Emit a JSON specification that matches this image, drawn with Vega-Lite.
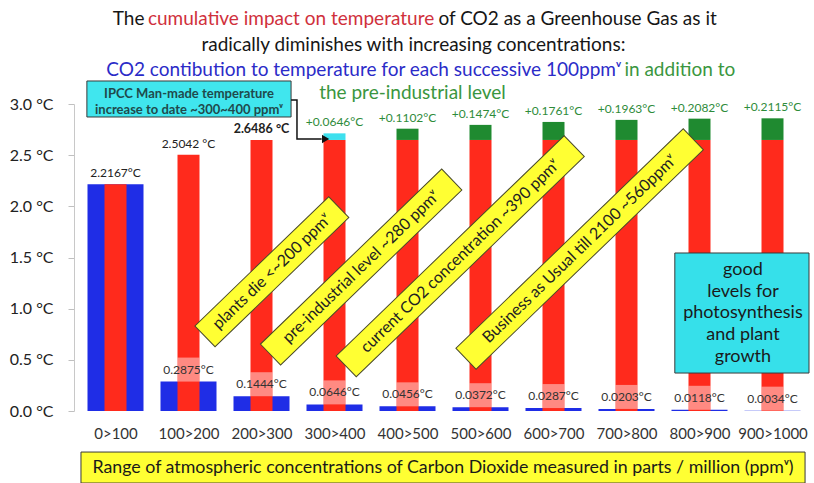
{
  "$schema": "https://vega.github.io/schema/vega-lite/v6.json",
  "width": 740,
  "height": 307,
  "autosize": {"type": "none"},
  "padding": {"left": 74, "top": 104, "right": 0, "bottom": 72},
  "background": "white",
  "config": {"font": "Lato", "view": {"stroke": null}},
  "datasets": {
    "bars": [
      {"range": "0>100", "x": 50, "y": 2.2167, "label": ""},
      {"range": "100>200", "x": 150, "y": 0.2875, "label": "0.2875°C"},
      {"range": "200>300", "x": 250, "y": 0.1444, "label": "0.1444°C"},
      {"range": "300>400", "x": 350, "y": 0.0646, "label": "0.0646°C"},
      {"range": "400>500", "x": 450, "y": 0.0456, "label": "0.0456°C"},
      {"range": "500>600", "x": 550, "y": 0.0372, "label": "0.0372°C"},
      {"range": "600>700", "x": 650, "y": 0.0287, "label": "0.0287°C"},
      {"range": "700>800", "x": 750, "y": 0.0203, "label": "0.0203°C"},
      {"range": "800>900", "x": 850, "y": 0.0118, "label": "0.0118°C"},
      {"range": "900>1000", "x": 950, "y": 0.0034, "label": "0.0034°C"}
    ],
    "cumulative": [
      {"x": 50, "part": "cumulative", "y": 2.2167, "label": "2.2167°C"},
      {"x": 150, "part": "cumulative", "y": 2.5042, "label": "2.5042 °C"},
      {"x": 250, "part": "cumulative", "y": 2.6486, "label": "2.6486 °C"},
      {"x": 350, "part": "cumulative", "y": 2.6486, "label": ""},
      {"x": 350, "part": "increase (IPCC)", "y": 0.0646, "label": "+0.0646°C"},
      {"x": 450, "part": "cumulative", "y": 2.6486, "label": ""},
      {"x": 450, "part": "increase", "y": 0.1102, "label": "+0.1102°C"},
      {"x": 550, "part": "cumulative", "y": 2.6486, "label": ""},
      {"x": 550, "part": "increase", "y": 0.1474, "label": "+0.1474°C"},
      {"x": 650, "part": "cumulative", "y": 2.6486, "label": ""},
      {"x": 650, "part": "increase", "y": 0.1761, "label": "+0.1761°C"},
      {"x": 750, "part": "cumulative", "y": 2.6486, "label": ""},
      {"x": 750, "part": "increase", "y": 0.1963, "label": "+0.1963°C"},
      {"x": 850, "part": "cumulative", "y": 2.6486, "label": ""},
      {"x": 850, "part": "increase", "y": 0.2082, "label": "+0.2082°C"},
      {"x": 950, "part": "cumulative", "y": 2.6486, "label": ""},
      {"x": 950, "part": "increase", "y": 0.2115, "label": "+0.2115°C"}
    ],
    "diagonal": [
      {"note": "plants die <~200 ppmᵛ", "x": 264.2, "y": 1.361},
      {"note": "pre-industrial level ~280 ppmᵛ", "x": 386.5, "y": 1.407},
      {"note": "current CO2 concentration  ~390 ppmᵛ", "x": 522.2, "y": 1.512},
      {"note": "Business as Usual till 2100 ~560ppmᵛ", "x": 685.8, "y": 1.583}
    ],
    "panels": [
      {"kind": "IPCC note", "x": 10.8, "x2": 290.5, "y": 3.2248, "y2": 2.873},
      {"kind": "growth note", "x": 816.2, "x2": 1000, "y": 1.544, "y2": 0.371},
      {"kind": "axis caption", "x": 2.7, "x2": 994.6, "y": -0.401, "y2": -0.704}
    ],
    "arrow": [
      {"step": 1, "x": 290.5, "y": 3.039},
      {"step": 2, "x": 298.6, "y": 3.039},
      {"step": 3, "x": 298.6, "y": 2.658},
      {"step": 4, "x": 332.4, "y": 2.658}
    ],
    "title": [
      {"text": "The", "x": 68.0, "y": 3.831, "line": 1, "role": "plain"},
      {"text": "cumulative impact on temperature", "x": 290.5, "y": 3.831, "line": 1, "role": "cumulative"},
      {"text": "of CO2 as a Greenhouse Gas as it", "x": 683.0, "y": 3.831, "line": 1, "role": "plain"},
      {"text": "radically diminishes with increasing concentrations:", "x": 458.1, "y": 3.577, "line": 2, "role": "plain"},
      {"text": "CO2 contibution to temperature for each successive 100ppmᵛ", "x": 390.0, "y": 3.332, "line": 3, "role": "contribution"},
      {"text": "in addition to", "x": 823.0, "y": 3.332, "line": 3, "role": "pre-industrial"},
      {"text": "the pre-industrial level", "x": 456.8, "y": 3.107, "line": 4, "role": "pre-industrial"}
    ]
  },
  "encoding": {
    "x": {
      "field": "x", "type": "quantitative",
      "scale": {"domain": [0, 1000], "nice": false, "zero": false},
      "axis": {
        "values": [50, 150, 250, 350, 450, 550, 650, 750, 850, 950],
        "labelExpr": "(datum.value - 50) + '>' + (datum.value + 50)",
        "title": null, "grid": false, "domain": false, "ticks": false, "tickSize": 0,
        "labelPadding": 15, "labelFontSize": 15, "labelColor": "#333", "labelFont": "Lato"
      }
    },
    "y": {
      "field": "y", "type": "quantitative",
      "scale": {"domain": [0, 3], "nice": false},
      "axis": {
        "values": [0, 0.5, 1, 1.5, 2, 2.5, 3],
        "labelExpr": "format(datum.value, '.1f') + ' °C'",
        "title": null, "grid": false, "domainColor": "#c8c8c8", "tickColor": "#c0c0c0",
        "tickSize": 6, "labelPadding": 15, "labelFontSize": 16, "labelColor": "#222", "labelFont": "Lato"
      }
    }
  },
  "layer": [
    {
      "data": {"name": "bars"},
      "mark": {"type": "bar", "size": 56, "color": "#1f2de6"}
    },
    {
      "data": {"name": "cumulative"},
      "mark": {"type": "bar", "size": 22},
      "encoding": {
        "y": {"field": "y", "type": "quantitative", "stack": "zero", "scale": {"domain": [0, 3], "nice": false}},
        "color": {"field": "part", "type": "nominal", "legend": null,
          "scale": {"domain": ["cumulative", "increase", "increase (IPCC)"], "range": ["#ff2a1c", "#1f8a30", "#3ee0ee"]}},
        "order": {"field": "part", "sort": "ascending"}
      }
    },
    {
      "data": {"name": "bars"},
      "transform": [{"filter": "datum.label != ''"}],
      "mark": {"type": "point", "shape": "M-11,-12L11,-12L11,12L-11,12Z", "size": 4, "filled": true, "fill": "white", "opacity": 0.45, "strokeWidth": 0, "yOffset": -12}
    },
    {
      "data": {"name": "bars"},
      "mark": {"type": "text", "fontSize": 12, "color": "#333", "baseline": "middle", "yOffset": -12},
      "encoding": {"text": {"field": "label"}}
    },
    {
      "data": {"name": "cumulative"},
      "mark": {"type": "text", "fontSize": 12, "baseline": "bottom", "dy": -4},
      "encoding": {
        "y": {"field": "y", "type": "quantitative", "stack": "zero", "scale": {"domain": [0, 3], "nice": false}},
        "text": {"condition": {"test": "datum.x == 250", "value": ""}, "field": "label"},
        "fill": {"field": "part", "type": "nominal", "legend": null,
          "scale": {"domain": ["cumulative", "increase", "increase (IPCC)"], "range": ["#222222", "#2e8b3a", "#2e8b3a"]}},
        "order": {"field": "part", "sort": "ascending"}
      }
    },
    {
      "data": {"name": "cumulative"},
      "transform": [{"filter": "datum.x == 250 && datum.part == 'cumulative'"}],
      "mark": {"type": "text", "fontSize": 12.5, "fontWeight": "bold", "color": "#222", "baseline": "bottom", "dy": -4},
      "encoding": {"text": {"field": "label"}}
    },
    {
      "data": {"name": "diagonal"},
      "mark": {"type": "point", "size": 4, "filled": true, "fill": "#ffff33", "stroke": "#4a4a2a", "strokeWidth": 1, "opacity": 1, "angle": -44},
      "encoding": {
        "shape": {"field": "note", "type": "nominal", "legend": null,
          "scale": {
            "domain": ["plants die <~200 ppmᵛ", "pre-industrial level ~280 ppmᵛ", "current CO2 concentration  ~390 ppmᵛ", "Business as Usual till 2100 ~560ppmᵛ"],
            "range": ["M-93,-14.5L93,-14.5L93,14.5L-93,14.5Z", "M-126,-14.5L126,-14.5L126,14.5L-126,14.5Z", "M-158.5,-14.5L158.5,-14.5L158.5,14.5L-158.5,14.5Z", "M-158,-14.5L158,-14.5L158,14.5L-158,14.5Z"]
          }}
      }
    },
    {
      "data": {"name": "diagonal"},
      "mark": {"type": "text", "fontSize": 16, "color": "#222", "angle": -44, "align": "center", "baseline": "middle"},
      "encoding": {"text": {"field": "note"}}
    },
    {
      "data": {"name": "panels"},
      "mark": {"type": "rect", "stroke": "#3a3a3a", "strokeWidth": 1},
      "encoding": {
        "x2": {"field": "x2"},
        "y2": {"field": "y2"},
        "color": {"field": "kind", "type": "nominal", "legend": null,
          "scale": {"domain": ["IPCC note", "growth note", "axis caption"], "range": ["#40e6ee", "#36e0ea", "#ffff33"]}}
      }
    },
    {
      "data": {"values": [{"text": "IPCC Man-made temperature\nincrease to date ~300~400 ppmᵛ", "x": 150.7, "y": 3.098}]},
      "mark": {"type": "text", "fontSize": 13, "fontWeight": "bold", "color": "#1f4a4c", "lineBreak": "\n", "lineHeight": 16, "align": "center", "baseline": "middle"},
      "encoding": {"text": {"field": "text"}}
    },
    {
      "data": {"values": [{"text": "good\nlevels for\nphotosynthesis\nand plant\ngrowth", "x": 909.5, "y": 1.378}]},
      "mark": {"type": "text", "fontSize": 18, "color": "#1a1a1a", "lineBreak": "\n", "lineHeight": 21.7, "align": "center", "baseline": "middle"},
      "encoding": {"text": {"field": "text"}}
    },
    {
      "data": {"values": [{"text": "Range of atmospheric concentrations of Carbon Dioxide measured in parts / million (ppmᵛ)", "x": 498.6, "y": -0.557}]},
      "mark": {"type": "text", "fontSize": 17.8, "color": "#1a1a1a", "align": "center", "baseline": "middle"},
      "encoding": {"text": {"field": "text"}}
    },
    {
      "data": {"name": "arrow"},
      "mark": {"type": "line", "color": "#111", "strokeWidth": 1.5},
      "encoding": {"order": {"field": "step", "type": "quantitative"}}
    },
    {
      "data": {"values": [{"x": 337.8, "y": 2.658}]},
      "mark": {"type": "point", "shape": "triangle-right", "size": 70, "filled": true, "color": "#111", "opacity": 1}
    },
    {
      "data": {"name": "title"},
      "mark": {"type": "text", "align": "center", "baseline": "middle"},
      "encoding": {
        "text": {"field": "text"},
        "size": {"field": "line", "type": "ordinal", "legend": null,
          "scale": {"domain": [1, 2, 3, 4], "range": [19, 19, 17.5, 18]}},
        "color": {"field": "role", "type": "nominal", "legend": null,
          "scale": {"domain": ["plain", "cumulative", "contribution", "pre-industrial"], "range": ["#161616", "#d0303c", "#2b2bc8", "#3a9640"]}}
      }
    }
  ],
  "resolve": {"scale": {"color": "independent", "fill": "independent", "shape": "independent", "size": "independent"}}
}
